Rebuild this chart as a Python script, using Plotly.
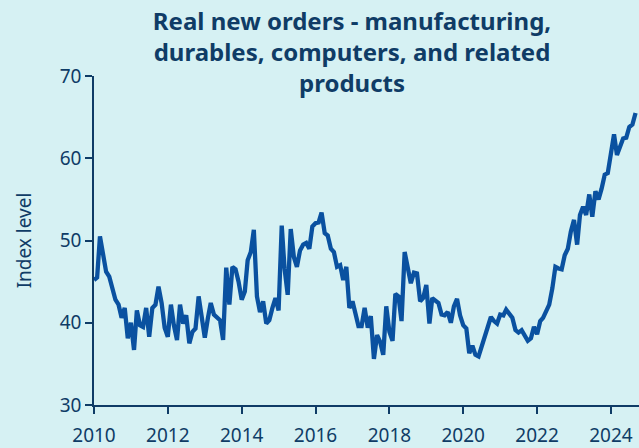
import pandas as pd
import plotly.graph_objects as go

# Monthly index values, Jan 2010 onward
values_2010_2013 = [45.2, 45.5, 50.5, 48.2, 46.2, 45.6, 44.2, 42.8, 42.2, 40.6, 41.8, 38.1,
                    40.0, 36.7, 41.5, 39.7, 39.5, 41.8, 38.3, 41.8, 42.2, 44.4, 42.4, 39.4,
                    38.3, 42.2, 39.7, 37.9, 42.2, 39.9, 40.9, 37.5, 38.9, 39.3, 43.2, 40.5,
                    38.2, 40.6, 42.4, 41.0, 40.6, 40.3, 37.9]
values_2013_2016 = [46.7, 42.2, 46.8, 46.5, 45.0, 42.8, 43.8, 47.6, 48.6, 51.3, 43.2, 41.3,
                    42.6, 39.9, 40.3, 41.8, 43.0, 41.5, 51.8, 46.6, 43.4, 51.4, 48.0, 46.8,
                    48.8, 49.5, 49.7, 49.0, 51.7, 52.1, 52.2, 53.4, 50.9, 50.6, 49.0, 48.6,
                    46.8, 47.0, 45.2, 46.8, 41.8]
values_2017_2020 = [42.6, 40.9, 39.6, 39.6, 41.8, 39.4, 40.8, 35.6, 38.5, 37.7, 36.1, 42.0,
                    38.9, 37.8, 43.5, 43.2, 40.2, 48.6, 46.8, 44.8, 46.1, 46.0, 42.6, 43.0,
                    44.6, 39.9, 43.0, 42.6, 42.4, 41.0, 40.9, 41.3, 40.0, 42.0, 42.9, 40.9,
                    39.7, 39.3, 36.3, 37.2, 36.1, 35.9, 37.1]
values_2020_2024 = [38.6, 39.5, 40.7, 40.2, 39.9, 41.0, 40.9, 41.6, 41.1, 40.6, 39.1, 38.8,
                    39.1, 38.4, 37.8, 38.1, 39.5, 38.6, 40.2, 40.6, 41.3, 42.2, 44.2, 46.8,
                    46.6, 46.5, 48.2, 49.0, 51.1, 52.5, 49.5, 53.1, 54.1, 53.1, 55.6, 52.9,
                    56.0, 55.0, 56.3, 58.0, 58.2, 60.4, 62.9, 60.4, 61.4, 62.4, 62.5, 63.8,
                    64.1, 65.5]

values = values_2010_2013 + values_2013_2016 + values_2017_2020 + values_2020_2024
dates = pd.date_range("2010-01-01", periods=len(values), freq="MS")

title_text = "Real new orders - manufacturing,<br>durables, computers, and related<br>products"
y_label = "Index level"
y_ticks = [30, 40, 50, 60, 70]

bg = "#d6f1f3"
navy = "#0f3c66"
line_col = "#0a51a0"

fig = go.Figure()
fig.add_trace(go.Scatter(x=dates, y=values, mode="lines",
                         line=dict(color=line_col, width=4.3), showlegend=False))

fig.update_layout(
    width=639, height=448,
    margin=dict(l=94, r=0, t=76, b=43),
    paper_bgcolor=bg, plot_bgcolor=bg,
    font=dict(family="Noto Sans", color=navy),
    title=dict(text="<b>" + title_text + "</b>", x=352/639, xanchor="center",
               y=1 - 30/448, yanchor="middle", yref="container",
               font=dict(size=24, color=navy, family="Noto Sans")),
)
fig.update_xaxes(
    range=["2010-01-01", "2024-10-05"],
    tick0="2010-01-01", dtick="M24", tickformat="%Y",
    showline=True, linecolor=navy, linewidth=1.5,
    ticks="outside", ticklen=7, tickcolor=navy, tickwidth=1.5,
    showgrid=False, zeroline=False,
    tickfont=dict(size=19, color=navy),
    ticklabelstandoff=5,
)
fig.update_yaxes(
    range=[30, 70], tickvals=y_ticks,
    showline=True, linecolor=navy, linewidth=1.5,
    ticks="outside", ticklen=7, tickcolor=navy, tickwidth=1.5,
    showgrid=False, zeroline=False,
    tickfont=dict(size=19, color=navy),
    title=dict(text=y_label, font=dict(size=19, color=navy), standoff=23),
)

fig.write_html("out.html", config={"displayModeBar": False},
               post_script="document.body.style.margin='0';document.body.style.background='%s';" % bg)
